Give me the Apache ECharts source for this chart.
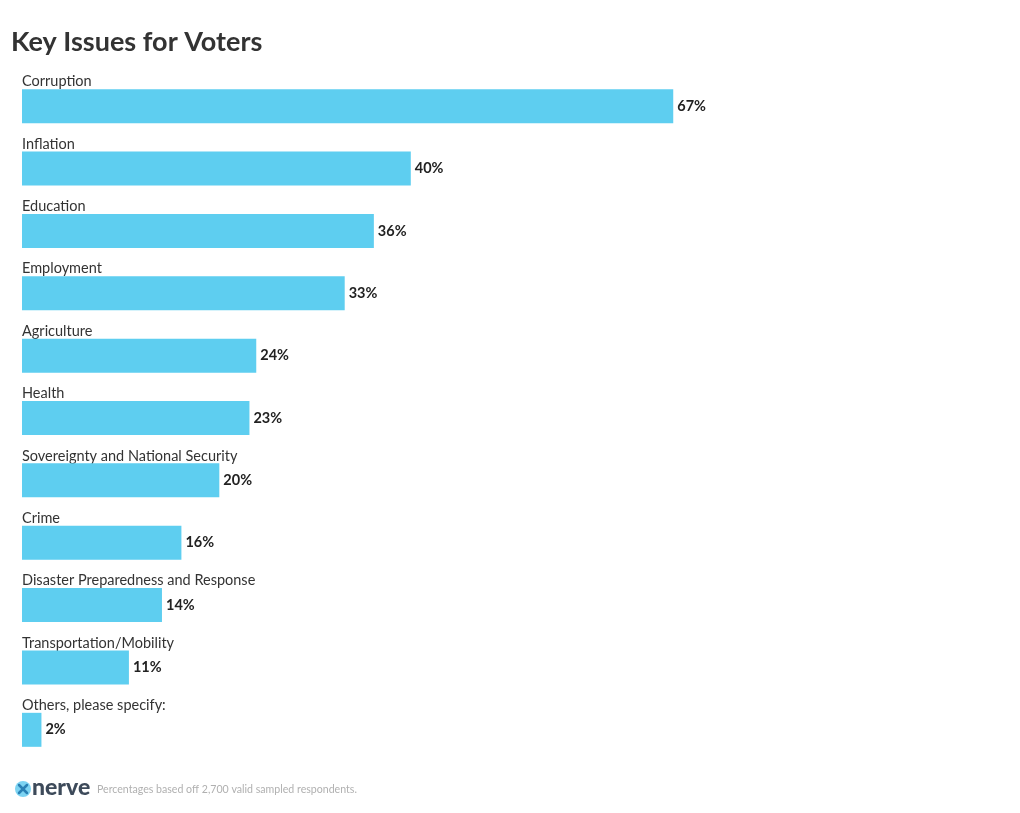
<!DOCTYPE html>
<html><head><meta charset="utf-8">
<script src="https://cdn.jsdelivr.net/npm/echarts@6/dist/echarts.min.js"></script>
<style>html,body{margin:0;padding:0;background:#fff}#c{width:1020px;height:813px}</style>
</head><body><div id="c"></div>
<script>
const categories = ["Corruption","Inflation","Education","Employment","Agriculture","Health","Sovereignty and National Security","Crime","Disaster Preparedness and Response","Transportation/Mobility","Others, please specify:"];
const values = [67.0,40.0,36.2,33.2,24.1,23.4,20.3,16.4,14.4,11.0,2.0];
const titleText = "Key Issues for Voters";
const footnote = "Percentages based off 2,700 valid sampled respondents.";

const chart = echarts.init(document.getElementById('c'));
chart.setOption({
  backgroundColor: '#fff',
  animation: false,
  title: { text: titleText, left: 6, top: 24, textStyle: { fontFamily: 'Lato', fontWeight: 'bold', fontSize: 27, color: '#333' } },
  grid: { left: 22, right: 26, top: 75, bottom: 52, containLabel: false },
  xAxis: { type: 'value', min: 0, max: 100, show: false },
  yAxis: { type: 'category', data: categories, inverse: true,
    axisLine: { show: false }, axisTick: { show: false }, splitLine: { show: false },
    axisLabel: { inside: true, margin: 0, align: 'left', verticalAlign: 'bottom', padding: [0,0,17,0],
      fontFamily: 'Lato', fontSize: 14.5, color: '#333' } },
  series: [{ type: 'bar', data: values, barWidth: 34, itemStyle: { color: '#5ECEF0' },
    label: { show: true, position: 'right', distance: 4, formatter: p => Math.round(p.value) + '%', fontFamily: 'Lato', fontWeight: 'bold', fontSize: 14.5, color: '#222' } }],
  graphic: [
    { type: 'circle', shape: { cx: 23, cy: 789, r: 8 }, style: { fill: '#7CD3F2' } },
    { type: 'line', shape: { x1: 19, y1: 785, x2: 27, y2: 793 }, style: { stroke: '#2A80B5', lineWidth: 2.5, lineCap: 'round' } },
    { type: 'line', shape: { x1: 27, y1: 785, x2: 19, y2: 793 }, style: { stroke: '#2A80B5', lineWidth: 2.5, lineCap: 'round' } },
    { type: 'text', left: 32, top: 776, style: { text: 'nerve', fill: '#3d4a5a', font: '900 23px Lato' } },
    { type: 'text', left: 97, top: 784, style: { text: footnote, fill: '#b0b0b0', font: '10.6px Lato' } }
  ]
});
</script></body></html>
